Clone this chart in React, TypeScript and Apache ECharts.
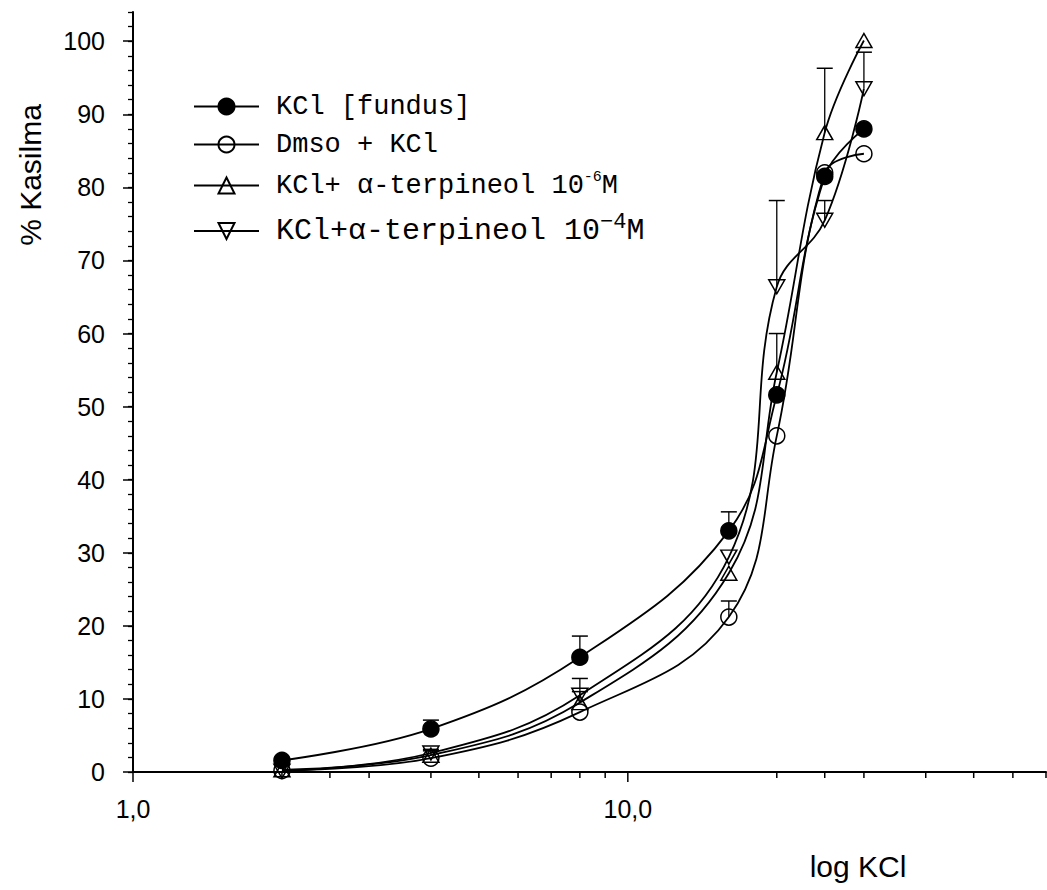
import React, { useEffect, useRef } from 'react';
import * as echarts from 'echarts';

// KCl concentrations (x, log axis)
const concentrations = [2, 4, 8, 16, 20, 25, 30];

// % contraction values
const kclFundus = [1.6, 5.9, 15.7, 33.0, 51.6, 81.5, 88.0];
const dmsoKcl = [0.2, 1.9, 8.2, 21.2, 46.0, 82.0, 84.6];
const terpineol6 = [0.3, 2.3, 9.5, 27.2, 54.7, 87.5, 100.1];
const terpineol4 = [0.1, 2.6, 10.5, 29.4, 66.4, 75.5, 93.5];

// upper error bars (SEM)
const errFundus = [0, 1.2, 2.9, 2.6, 0, 0, 0];
const errDmso = [0, 0, 0, 2.2, 0, 0, 0];
const errTerp6 = [0, 0.6, 1.5, 0, 5.3, 8.8, 0];
const errTerp4 = [0, 0.5, 2.3, 0, 11.8, 2.7, 5.0];

const seriesNames = [
  'KCl [fundus]',
  'Dmso + KCl',
  'KCl+ α-terpineol 10-6M',
  'KCl+α-terpineol 10-4M',
];

// axis tick settings
const yMax = 104;
const yMajorStep = 10;
const yMinorStep = 2;
const xMajorTicks = [1, 10];
const xMinorTicks = [2, 2.5, 3, 4, 5, 6, 7, 8, 9, 20, 25, 30, 40, 50, 60, 70];

const DOWN_TRI = 'path://M0,0L20,0L10,17.3Z';

export default function App() {
  const ref = useRef<HTMLDivElement>(null);

  useEffect(() => {
    if (!ref.current) return;
    const chart = echarts.init(ref.current, undefined, { renderer: 'svg' });

    const mkLine = (name: string, vals: number[], symbol: string, filled: boolean) => ({
      type: 'line',
      name,
      data: concentrations.map((c, i) => [c, vals[i]]),
      smooth: 0.4,
      symbol,
      symbolSize: symbol === 'circle' ? 16 : [16, 14],
      showAllSymbol: true,
      lineStyle: { color: '#000', width: 1.8 },
      itemStyle: {
        color: filled ? '#000' : 'rgba(255,255,255,0)',
        borderColor: '#000',
        borderWidth: 1.5,
      },
      emphasis: { disabled: true },
      z: 3,
    });

    const errRows: number[][] = [];
    const addErr = (vals: number[], errs: number[]) => {
      concentrations.forEach((c, i) => {
        if (errs[i] > 0) errRows.push([c, vals[i], errs[i]]);
      });
    };
    addErr(kclFundus, errFundus);
    addErr(dmsoKcl, errDmso);
    addErr(terpineol6, errTerp6);
    addErr(terpineol4, errTerp4);

    const xTickRows = [
      ...xMajorTicks.map((v) => [v, 0, 10]),
      ...xMinorTicks.map((v) => [v, 0, 6]),
    ];

    const monoFont = "'Liberation Mono', 'DejaVu Sans Mono', monospace";
    const rich = {
      t: { fontFamily: monoFont, fontSize: 27, color: '#000', lineHeight: 30 },
      t4: { fontFamily: monoFont, fontSize: 30, color: '#000', lineHeight: 32 },
      s6: { fontFamily: monoFont, fontSize: 15, color: '#000', padding: [0, 0, 16, 0] },
      s4: { fontFamily: monoFont, fontSize: 22, color: '#000', padding: [0, 0, 18, 0] },
    };
    const fmt = (name: string) => {
      if (name === seriesNames[2]) return '{t|KCl+ α-terpineol 10}{s6|-6}{t|M}';
      if (name === seriesNames[3]) return '{t4|KCl+α-terpineol 10}{s4|−4}{t4|M}';
      return '{t|' + name + '}';
    };
    const rowCenters = [109, 147, 186, 227];
    const legends = seriesNames.map((n, i) => ({
      data: [n],
      left: 193,
      top: rowCenters[i] - 16,
      padding: 0,
      itemWidth: 65,
      itemHeight: 20,
      selectedMode: false,
      formatter: fmt,
      textStyle: { rich, padding: [0, 0, 0, 12] },
    }));

    const labelFont = "'Liberation Sans', Arial, sans-serif";

    chart.setOption({
      animation: false,
      backgroundColor: '#fff',
      grid: { left: 133, right: 1, top: 12, bottom: 118 },
      legend: legends,
      xAxis: {
        type: 'log',
        logBase: 10,
        min: 1,
        max: 70,
        axisLine: { show: true, lineStyle: { color: '#000', width: 2 } },
        axisTick: { show: false },
        splitLine: { show: false },
        axisLabel: {
          showMaxLabel: false,
          margin: 24,
          color: '#000',
          fontSize: 25,
          fontFamily: labelFont,
          formatter: (v: number) => v.toFixed(1).replace('.', ','),
        },
      },
      yAxis: [
        {
          type: 'value',
          min: 0,
          max: yMax,
          interval: yMajorStep,
          axisLine: { show: true, lineStyle: { color: '#000', width: 2 } },
          axisTick: { show: true, length: 10, lineStyle: { color: '#000', width: 1.5 } },
          axisLabel: {
            showMaxLabel: false,
            margin: 28,
            color: '#000',
            fontSize: 25,
            fontFamily: labelFont,
          },
          splitLine: { show: false },
        },
        {
          type: 'value',
          min: 0,
          max: yMax,
          interval: yMinorStep,
          position: 'left',
          offset: 0,
          axisLine: { show: false },
          axisTick: { show: true, length: 5, lineStyle: { color: '#000', width: 1.3 } },
          axisLabel: { show: false },
          splitLine: { show: false },
        },
      ],
      graphic: [
        {
          type: 'text',
          x: 30,
          y: 175,
          rotation: Math.PI / 2,
          style: {
            text: '% Kasilma',
            fontSize: 30,
            fontFamily: labelFont,
            fill: '#000',
            textAlign: 'center',
            textVerticalAlign: 'middle',
          },
        },
        {
          type: 'text',
          x: 858,
          y: 866,
          style: {
            text: 'log KCl',
            fontSize: 30,
            fontFamily: labelFont,
            fill: '#000',
            textAlign: 'center',
            textVerticalAlign: 'middle',
          },
        },
      ],
      series: [
        mkLine(seriesNames[0], kclFundus, 'circle', true),
        mkLine(seriesNames[1], dmsoKcl, 'circle', false),
        mkLine(seriesNames[2], terpineol6, 'triangle', false),
        mkLine(seriesNames[3], terpineol4, DOWN_TRI, false),
        {
          type: 'custom',
          name: 'errors',
          coordinateSystem: 'cartesian2d',
          silent: true,
          z: 2,
          data: errRows,
          encode: { x: 0, y: 1 },
          renderItem: (_p: any, api: any) => {
            const x = api.value(0);
            const v = api.value(1);
            const e = api.value(2);
            const p0 = api.coord([x, v]);
            const p1 = api.coord([x, v + e]);
            return {
              type: 'group',
              children: [
                { type: 'line', shape: { x1: p0[0], y1: p0[1], x2: p1[0], y2: p1[1] }, style: { stroke: '#000', lineWidth: 1.3 } },
                { type: 'line', shape: { x1: p1[0] - 8, y1: p1[1], x2: p1[0] + 8, y2: p1[1] }, style: { stroke: '#000', lineWidth: 1.5 } },
              ],
            };
          },
        },
        {
          type: 'custom',
          name: 'xticks',
          coordinateSystem: 'cartesian2d',
          silent: true,
          clip: false,
          data: xTickRows,
          encode: { x: 0, y: 1 },
          renderItem: (_p: any, api: any) => {
            const p = api.coord([api.value(0), api.value(1)]);
            const len = api.value(2);
            return {
              type: 'line',
              shape: { x1: p[0], y1: p[1], x2: p[0], y2: p[1] + len },
              style: { stroke: '#000', lineWidth: 1.5 },
            };
          },
        },
      ],
    });

    return () => chart.dispose();
  }, []);

  return (
    <div
      ref={ref}
      style={{ position: 'fixed', left: 0, top: 0, width: 1047, height: 890, background: '#fff' }}
    />
  );
}
